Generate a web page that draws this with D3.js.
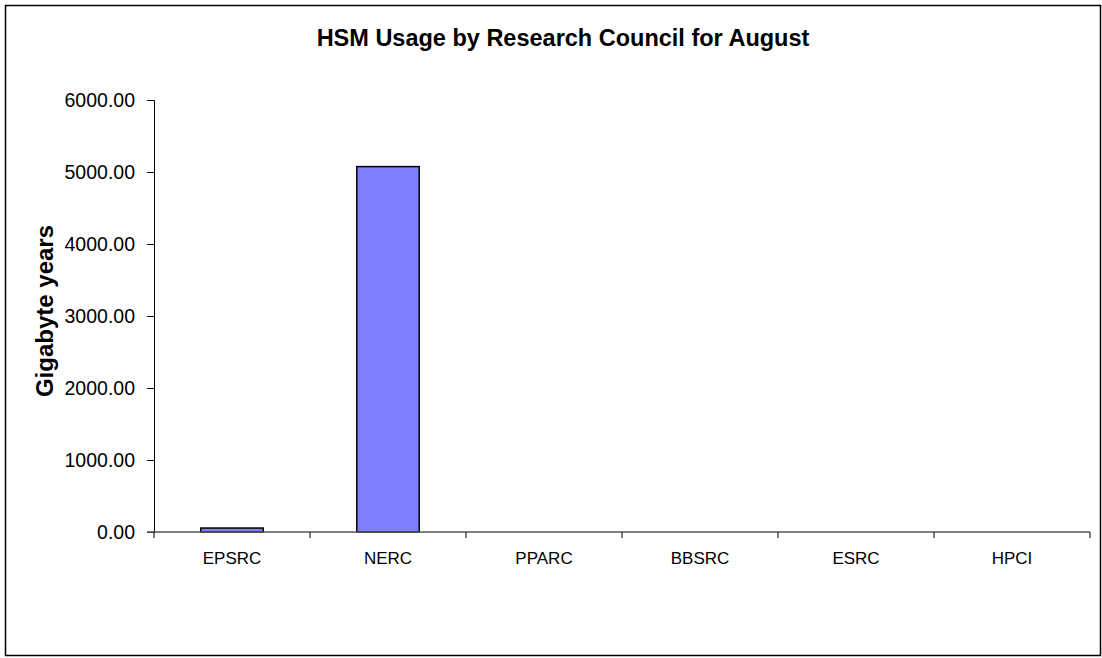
<!DOCTYPE html>
<html><head><meta charset="utf-8">
<script src="https://cdn.jsdelivr.net/npm/d3@7"></script>
<style>body{margin:0;background:#fff}svg{display:block}</style>
</head><body>
<svg id="c" width="1102" height="658"></svg>
<script>
const categories = ["EPSRC","NERC","PPARC","BBSRC","ESRC","HPCI"];
const values = [55, 5075, 0, 0, 0, 0];
const yTicks = [0,1000,2000,3000,4000,5000,6000];
const title = "HSM Usage by Research Council for August";
const yLabel = "Gigabyte years";

(function(){
const svg = d3.select("#c");
const FF = "Arial, Liberation Sans, sans-serif";
svg.append("rect").attr("x",5.5).attr("y",5.5).attr("width",1095).attr("height",650)
  .attr("fill","#fff").attr("stroke","#000").attr("stroke-width",1.5);

const pl=154, pr=1090, pt=100, pb=532;
const x = d3.scaleBand().domain(categories).range([pl,pr]).paddingInner(0).paddingOuter(0);
const y = d3.scaleLinear().domain([0,6000]).range([pb,pt]);

svg.selectAll(".bar").data(values).enter().append("rect")
  .attr("x",(d,i)=>x(categories[i])+x.bandwidth()*0.3)
  .attr("width",x.bandwidth()*0.4)
  .attr("y",d=>y(d)).attr("height",d=>pb-y(d))
  .attr("fill","#8080ff").attr("stroke","#000").attr("stroke-width",1.5);

const ya = svg.append("g").attr("transform",`translate(${pl},0)`)
  .call(d3.axisLeft(y).tickValues(yTicks).tickFormat(d3.format(".2f")).tickSize(7).tickPadding(12));
ya.select(".domain").attr("stroke","#000");
ya.selectAll("text").attr("font-family",FF).attr("font-size",19.5).attr("fill","#000");

svg.append("line").attr("x1",147).attr("x2",pr).attr("y1",pb).attr("y2",pb).attr("stroke","#555").attr("stroke-width",1.5);
const bounds = categories.map(c=>x(c)).concat([pr]);
svg.selectAll(".xt").data(bounds).enter().append("line")
  .attr("x1",d=>d).attr("x2",d=>d).attr("y1",pb).attr("y2",pb+6).attr("stroke","#000");
svg.selectAll(".xl").data(categories).enter().append("text")
  .attr("x",d=>x(d)+x.bandwidth()/2).attr("y",564).attr("text-anchor","middle")
  .attr("font-family",FF).attr("font-size",17).text(d=>d);

svg.append("text").attr("x",563).attr("y",46).attr("text-anchor","middle")
  .attr("font-family",FF).attr("font-size",23.5).attr("font-weight","bold").text(title);
svg.append("text").attr("transform","translate(53,311) rotate(-90)").attr("text-anchor","middle")
  .attr("font-family",FF).attr("font-size",24).attr("font-weight","bold").text(yLabel);
})();
</script>
</body></html>
